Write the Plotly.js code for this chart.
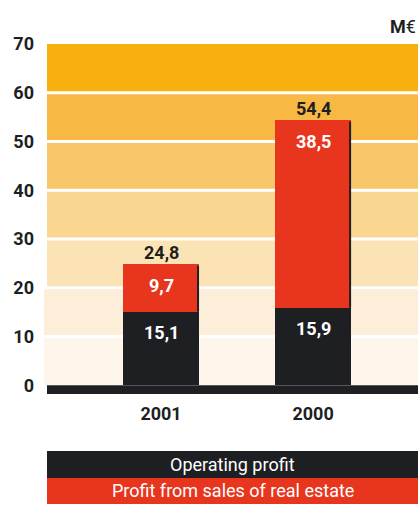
<!DOCTYPE html>
<html>
<head>
<meta charset="utf-8">
<script src="https://cdn.plot.ly/plotly-3.0.1.min.js"></script>
<style>html,body{margin:0;padding:0;background:#fff;}#chart{width:418px;height:519px;}</style>
</head>
<body>
<div id="chart"></div>
<script>
var categories = ['2001', '2000'];
var operatingProfit = [15.1, 15.9];
var realEstateProfit = [9.7, 38.5];
var totals = [24.8, 54.4];
var seriesNames = ['Operating profit', 'Profit from sales of real estate'];
var yTicks = [0, 10, 20, 30, 40, 50, 60, 70];
var unitLabel = 'M€';

var DARK = '#1e1f22', RED = '#e8361e';
var FONT = 'Roboto, Liberation Sans, sans-serif';
var bandColors = ['#fef6ea', '#fdeed9', '#fce3b5', '#fbd592', '#f9c66a', '#f7b944', '#f7b00f'];

function fmt(v){ return v.toFixed(1).replace('.', ','); }

var traces = [
  {type:'bar', x:categories, y:operatingProfit, name:seriesNames[0], marker:{color:DARK}, width:0.5, hoverinfo:'skip'},
  {type:'bar', x:categories, y:realEstateProfit, name:seriesNames[1], marker:{color:RED}, width:0.5, hoverinfo:'skip'}
];

var shapes = [];
for (var i = 0; i < bandColors.length; i++) {
  shapes.push({type:'rect', layer:'below', xref:'paper', yref:'y',
    x0: i < 2 ? -0.008 : 0, x1:1,
    y0: i*10 + (i > 0 ? 0.3 : 0), y1: (i+1)*10 - (i < bandColors.length-1 ? 0.3 : 0),
    fillcolor: bandColors[i], line:{width:0}});
}
// base bar
shapes.push({type:'rect', layer:'above', xref:'paper', yref:'y', x0:0, x1:1, y0:-1.8, y1:0, fillcolor:DARK, line:{width:0}});
// bar side shadows
categories.forEach(function(c, i){
  shapes.push({type:'rect', layer:'above', xref:'x', yref:'y', x0:i+0.25-0.013, x1:i+0.25,
    y0:operatingProfit[i], y1:totals[i]-0.3, fillcolor:DARK, line:{width:0}});
});
// legend boxes
shapes.push({type:'rect', xref:'paper', yref:'paper', x0:0, x1:1, y0:-0.2365, y1:-0.1595, fillcolor:DARK, line:{width:0}});
shapes.push({type:'rect', xref:'paper', yref:'paper', x0:0, x1:1, y0:-0.3105, y1:-0.2365, fillcolor:RED, line:{width:0}});

var annotations = [];
categories.forEach(function(c, i){
  var top = operatingProfit[i] + realEstateProfit[i];
  annotations.push({x:i, y:totals[i], xref:'x', yref:'y', text:'<b>' + fmt(totals[i]) + '</b>', showarrow:false,
    yanchor:'middle', yshift:12, font:{family:FONT, size:18, color:DARK}});
  annotations.push({x:i, y:top, xref:'x', yref:'y', text:'<b>' + fmt(realEstateProfit[i]) + '</b>', showarrow:false,
    yanchor:'middle', yshift:-21, font:{family:FONT, size:18, color:'#ffffff'}});
  annotations.push({x:i, y:operatingProfit[i], xref:'x', yref:'y', text:'<b>' + fmt(operatingProfit[i]) + '</b>', showarrow:false,
    yanchor:'middle', yshift:-21, font:{family:FONT, size:18, color:'#ffffff'}});
});
annotations.push({xref:'paper', yref:'paper', x:1, y:1.051, xanchor:'right', yanchor:'middle', text:'<b>M</b>€',
  showarrow:false, font:{family:FONT, size:18, color:DARK}});
annotations.push({xref:'paper', yref:'paper', x:0.5, y:-0.198, xanchor:'center', yanchor:'middle', text:seriesNames[0],
  showarrow:false, font:{family:FONT, size:18, color:'#ffffff'}});
annotations.push({xref:'paper', yref:'paper', x:0.5, y:-0.2735, xanchor:'center', yanchor:'middle', text:seriesNames[1],
  showarrow:false, font:{family:FONT, size:18, color:'#ffffff'}});

var layout = {
  width:418, height:519,
  margin:{l:47, r:0, t:44, b:124},
  paper_bgcolor:'#ffffff', plot_bgcolor:'rgba(0,0,0,0)',
  barmode:'stack', showlegend:false,
  xaxis:{type:'category', range:[-0.75, 1.69], showgrid:false, zeroline:false, showline:false,
    ticks:'', ticklabelstandoff:6, tickfont:{family:FONT, size:18, color:DARK, weight:'bold'}, fixedrange:true},
  yaxis:{range:[-2, 70], tickvals:yTicks, ticktext:yTicks.map(String), showgrid:false, zeroline:false, showline:false,
    ticks:'', ticklabelstandoff:12, tickfont:{family:FONT, size:18, color:DARK, weight:'bold'}, fixedrange:true},
  shapes:shapes, annotations:annotations
};

Plotly.newPlot('chart', traces, layout, {displayModeBar:false, staticPlot:true});
</script>
</body>
</html>
